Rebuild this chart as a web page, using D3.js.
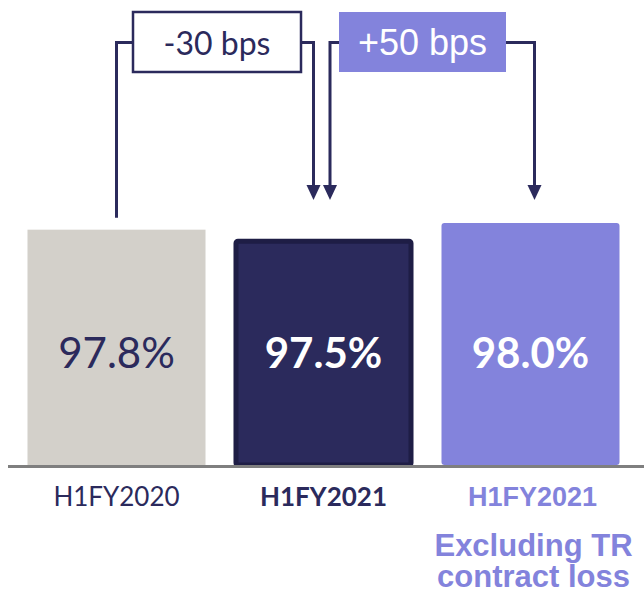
<!DOCTYPE html>
<html>
<head>
<meta charset="utf-8">
<script src="https://cdn.jsdelivr.net/npm/d3@7"></script>
<style>
  html, body { margin: 0; padding: 0; background: #ffffff; }
  svg { display: block; }
</style>
</head>
<body>
<script>
// Rate by half-year, with the adjusted figure excluding the TR contract loss
const categories = ["H1FY2020", "H1FY2021", "H1FY2021 adj"];
const values = [97.8, 97.5, 98.0];
const valueLabels = ["97.8%", "97.5%", "98.0%"];
const tickLabels = ["H1FY2020", "H1FY2021", "H1FY2021"];
const subLabels = [[], [], ["Excluding TR", "contract loss"]];
const changeLabels = ["-30 bps", "+50 bps"];

const W = 644, H = 596;
const navy = "#2b2a5c", navyEdge = "#1e1d45", grey = "#d3d0ca", purple = "#8383dc";

const svg = d3.select("body").append("svg").attr("width", W).attr("height", H);

const x = d3.scaleBand().domain(categories).range([13, 634]).paddingInner(0.14).paddingOuter(0.07);
const y = d3.scaleLinear().domain([90.75, 98.0]).range([465, 223]);

const fills = [grey, navy, purple];
const labelColors = [navy, "#ffffff", "#ffffff"];

// Bars
categories.forEach((c, i) => {
  const x0 = x(c), w = x.bandwidth(), top = y(values[i]), bottom = y.range()[0];
  if (i === 1) {
    svg.append("rect").attr("x", x0 + 1.5).attr("y", top + 1.5)
      .attr("width", w - 3).attr("height", bottom - top - 1.5)
      .attr("fill", fills[i]).attr("stroke", navyEdge).attr("stroke-width", 5).attr("rx", 2);
  } else {
    svg.append("rect").attr("x", x0).attr("y", top)
      .attr("width", w).attr("height", bottom - top)
      .attr("fill", fills[i]).attr("rx", i === 2 ? 3 : 0);
  }
  svg.append("text")
    .attr("x", x0 + w / 2).attr("y", 368)
    .attr("text-anchor", "middle")
    .attr("font-family", "Lato, 'Noto Sans', sans-serif")
    .attr("font-size", 42)
    .attr("font-weight", i === 0 ? 400 : 700)
    .attr("fill", labelColors[i])
    .text(valueLabels[i]);
});

// Baseline
svg.append("line").attr("x1", 8).attr("x2", W).attr("y1", 466.5).attr("y2", 466.5)
  .attr("stroke", "#7f7f7f").attr("stroke-width", 3);

// Category labels
categories.forEach((c, i) => {
  const cx = x(c) + x.bandwidth() / 2 + (i === 2 ? 2 : 0);
  svg.append("text")
    .attr("x", cx).attr("y", 506)
    .attr("text-anchor", "middle")
    .attr("font-family", i === 2 ? "'Liberation Sans', Arial, sans-serif" : "Lato, sans-serif")
    .attr("font-size", i === 2 ? 27 : 26)
    .attr("font-weight", i === 0 ? 400 : 700)
    .attr("fill", i === 2 ? purple : navy)
    .text(tickLabels[i]);
  subLabels[i].forEach((s, j) => {
    svg.append("text")
      .attr("x", cx + 1).attr("y", 556 + j * 31)
      .attr("text-anchor", "middle")
      .attr("font-family", "'Liberation Sans', Arial, sans-serif")
      .attr("font-size", 31)
      .attr("font-weight", 700)
      .attr("fill", purple)
      .text(s);
  });
});

// Change annotations: bracket lines with arrows pointing at the bars
const lineY = 42.5, tipY = 200, arrowH = 15, arrowW = 14;
const c0 = x(categories[0]) + x.bandwidth() / 2;
const c1 = x(categories[1]) + x.bandwidth() / 2;
const c2 = x(categories[2]) + x.bandwidth() / 2;

const startX = c0, startY = y(values[0]) - 12;
const arrowA = c1 - 10, arrowB = c1 + 6.5, arrowC = c2 + 4;

const line = d3.line();
const conn = svg.append("g").attr("fill", "none").attr("stroke", navy).attr("stroke-width", 3);

const box1 = { x0: 133, x1: 301, y0: 12, y1: 72 };
const box2 = { x0: 339, x1: 506, y0: 12, y1: 72 };

conn.append("path").attr("d", line([[startX, startY], [startX, lineY], [box1.x0, lineY]]));
conn.append("path").attr("d", line([[box1.x1, lineY], [arrowA, lineY], [arrowA, tipY - arrowH + 1]]));
conn.append("path").attr("d", line([[box2.x0, lineY], [arrowB, lineY], [arrowB, tipY - arrowH + 1]]));
conn.append("path").attr("d", line([[box2.x1, lineY], [arrowC, lineY], [arrowC, tipY - arrowH + 1]]));

[arrowA, arrowB, arrowC].forEach(ax => {
  svg.append("path")
    .attr("d", line([[ax - arrowW / 2, tipY - arrowH], [ax + arrowW / 2, tipY - arrowH], [ax, tipY]]) + "Z")
    .attr("fill", navy);
});

// Boxes
svg.append("rect").attr("x", box1.x0).attr("y", box1.y0)
  .attr("width", box1.x1 - box1.x0).attr("height", box1.y1 - box1.y0)
  .attr("fill", "#ffffff").attr("stroke", navy).attr("stroke-width", 2.5);
svg.append("text")
  .attr("x", (box1.x0 + box1.x1) / 2).attr("y", 55)
  .attr("text-anchor", "middle")
  .attr("font-family", "Lato, sans-serif").attr("font-size", 32)
  .attr("fill", navy).text(changeLabels[0]);

svg.append("rect").attr("x", box2.x0).attr("y", box2.y0)
  .attr("width", box2.x1 - box2.x0).attr("height", box2.y1 - box2.y0)
  .attr("fill", purple);
svg.append("text")
  .attr("x", (box2.x0 + box2.x1) / 2).attr("y", 55)
  .attr("text-anchor", "middle")
  .attr("font-family", "'Liberation Sans', Arial, sans-serif").attr("font-size", 36)
  .attr("fill", "#ffffff").text(changeLabels[1]);
</script>
</body>
</html>
